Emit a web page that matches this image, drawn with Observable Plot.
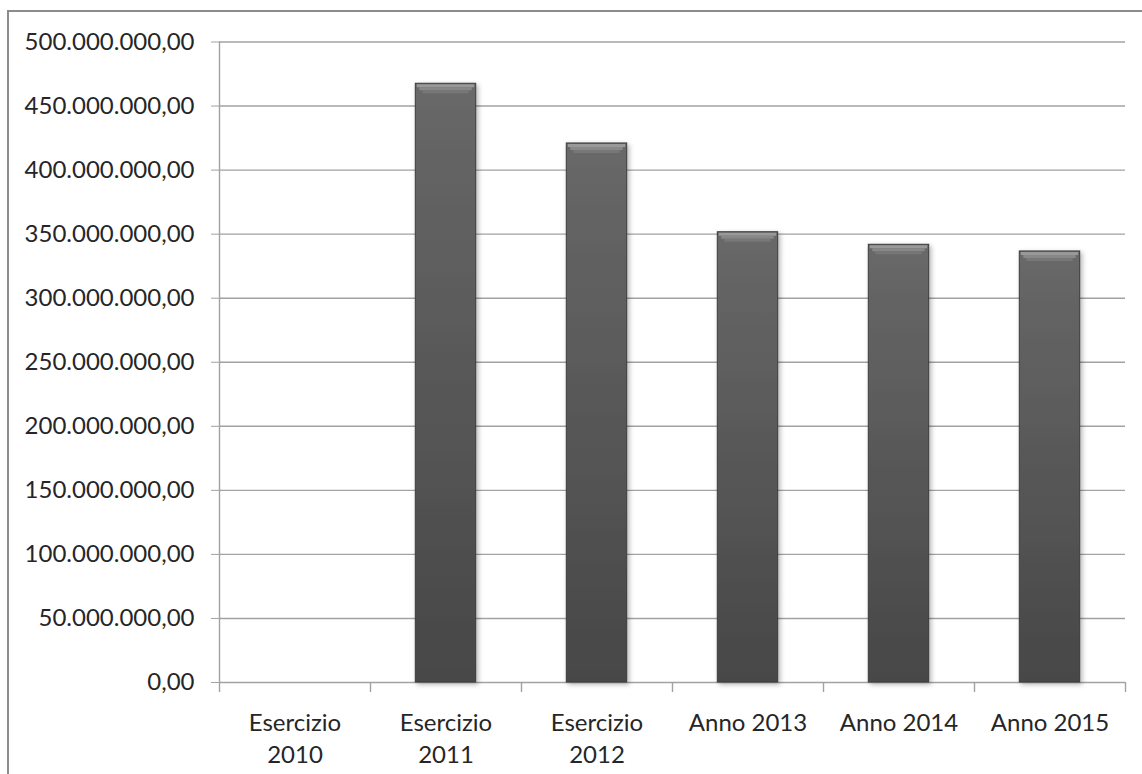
<!DOCTYPE html>
<html><head><meta charset="utf-8">
<script src="https://cdn.jsdelivr.net/npm/d3@7"></script>
<script src="https://cdn.jsdelivr.net/npm/@observablehq/plot@0.6"></script>
<style>
html,body{margin:0;padding:0;background:#fff;overflow:hidden;width:1142px;height:774px;}
#frame{position:absolute;left:7px;top:10px;width:1200px;height:800px;border:2px solid #8c8c8c;box-sizing:border-box;}
#chart{position:absolute;left:0;top:0;}
</style></head><body>
<div id="frame"></div><div id="chart"></div>
<script>
const categories = ["Esercizio 2010", "Esercizio 2011", "Esercizio 2012", "Anno 2013", "Anno 2014", "Anno 2015"];
const values = [0, 467.4e6, 420.8e6, 351.5e6, 341.7e6, 336.5e6];
const xTickLabels = ["Esercizio\n2010", "Esercizio\n2011", "Esercizio\n2012", "Anno 2013", "Anno 2014", "Anno 2015"];
const yTicks = [0, 50e6, 100e6, 150e6, 200e6, 250e6, 300e6, 350e6, 400e6, 450e6, 500e6];

const data = categories.map((c, i) => ({category: c, value: values[i]}));
const bars = data.filter(d => d.value > 0);
const W = 1142, H = 774, mL = 219, mR = 17, mT = 41.5, mB = 92;
const bw = (W - mL - mR) / categories.length;
const inset = bw * 0.3;
const it = d3.formatLocale({decimal: ",", thousands: ".", grouping: [3], currency: ["€", ""]});
const fmt = it.format(",.2f");
const gridColor = "#a2a2a2";
const textColor = "#262626";

const plot = Plot.plot({
  width: W, height: H,
  marginLeft: mL, marginRight: mR, marginTop: mT, marginBottom: mB,
  style: {fontFamily: "Lato, sans-serif", fontSize: "24px", color: textColor, background: "transparent", overflow: "visible"},
  x: {domain: categories, padding: 0, label: null},
  y: {domain: [0, 500e6], label: null},
  marks: [
    Plot.ruleY(yTicks, {stroke: gridColor, strokeWidth: 1.4}),
    Plot.ruleX([categories[0]], {x: d => d, dx: -bw / 2, y1: 0, y2: 500e6, stroke: gridColor, strokeWidth: 1.4}),
    Plot.ruleX(categories, {x: d => d, dx: -bw / 2, y1: 0, y2: 0, insetBottom: -10, stroke: gridColor, strokeWidth: 1.4}),
    Plot.ruleX([categories[categories.length - 1]], {x: d => d, dx: bw / 2, y1: 0, y2: 0, insetBottom: -10, stroke: gridColor, strokeWidth: 1.4}),
    Plot.barY(bars, {x: "category", y: "value", insetLeft: inset, insetRight: inset, fill: "url(#barGrad)", stroke: "#3c3c3c", strokeWidth: 1}),
    Plot.tickY(bars, {x: "category", y: "value", dy: 2, strokeWidth: 3, stroke: "#999999", insetLeft: inset + 1.5, insetRight: inset + 1.5}),
    Plot.tickY(bars, {x: "category", y: "value", dy: 5, strokeWidth: 3, stroke: "#888888", insetLeft: inset + 4, insetRight: inset + 4}),
    Plot.tickY(bars, {x: "category", y: "value", dy: 8, strokeWidth: 3, stroke: "#777777", insetLeft: inset + 7, insetRight: inset + 7}),
    Plot.axisY({ticks: yTicks, tickFormat: fmt, tickSize: 8, tickPadding: 17, stroke: gridColor, fill: textColor, label: null}),
    Plot.axisX({tickSize: 0, tickPadding: 26, tickFormat: d => xTickLabels[categories.indexOf(d)], lineHeight: 1.33, fill: textColor, label: null})
  ]
});

const svg = d3.select(plot);
const defs = svg.insert("defs", ":first-child");
const g = defs.append("linearGradient").attr("id", "barGrad").attr("x1", 0).attr("y1", 0).attr("x2", 0).attr("y2", 1);
g.append("stop").attr("offset", "0%").attr("stop-color", "#686868");
g.append("stop").attr("offset", "100%").attr("stop-color", "#474747");
const f = defs.append("filter").attr("id", "shadow").attr("x", "-20%").attr("y", "-5%").attr("width", "150%").attr("height", "115%");
f.append("feDropShadow").attr("dx", 2).attr("dy", 2).attr("stdDeviation", 2.5).attr("flood-color", "#000").attr("flood-opacity", 0.3);
svg.selectAll("g[aria-label=bar]").attr("filter", "url(#shadow)");

document.getElementById("chart").appendChild(plot);
</script>
</body></html>
